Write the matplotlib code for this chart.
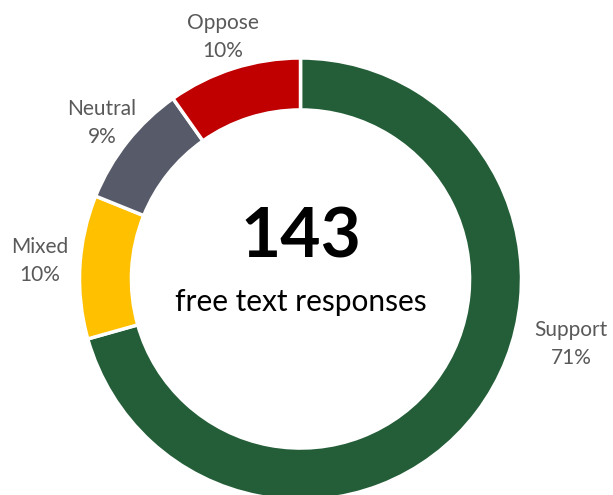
import matplotlib.pyplot as plt

# survey breakdown of free text responses
categories = ["Support", "Mixed", "Neutral", "Oppose"]
counts = [101, 15, 13, 14]
colors = ["#245E38", "#FFC000", "#575A68", "#C00000"]

total = sum(counts)
pcts = [round(c / total * 100) for c in counts]

plt.rcParams["font.family"] = ["Lato", "DejaVu Sans"]

fig = plt.figure(figsize=(6.13, 4.95), dpi=100)
ax = fig.add_axes([0, 0, 1, 1])

cx, cy, r = 300.5, 216, 221
ax.pie(
    counts,
    colors=colors,
    startangle=90,
    counterclock=False,
    center=(cx, cy),
    radius=r,
    wedgeprops=dict(width=r * 0.235, edgecolor="white", linewidth=2.5),
    frame=True,
)
ax.set_xlim(0, 613)
ax.set_ylim(0, 495)
ax.set_aspect("equal")
ax.axis("off")

# label positions (pixels from top-left)
label_pos = [(571, 344), (40, 261), (102, 123), (223, 37)]
for name, p, (x, y) in zip(categories, pcts, label_pos):
    ax.text(x, 495 - y, f"{name}\n{p}%", ha="center", va="center",
            fontsize=15, color="#595959", linespacing=1.55)

ax.text(cx, 495 - 238, str(total), ha="center", va="center",
        fontsize=50, fontweight="bold", color="black")
ax.text(cx, 495 - 302, "free text responses", ha="center", va="center",
        fontsize=21.5, color="black")

fig.savefig("out.png", dpi=100)
